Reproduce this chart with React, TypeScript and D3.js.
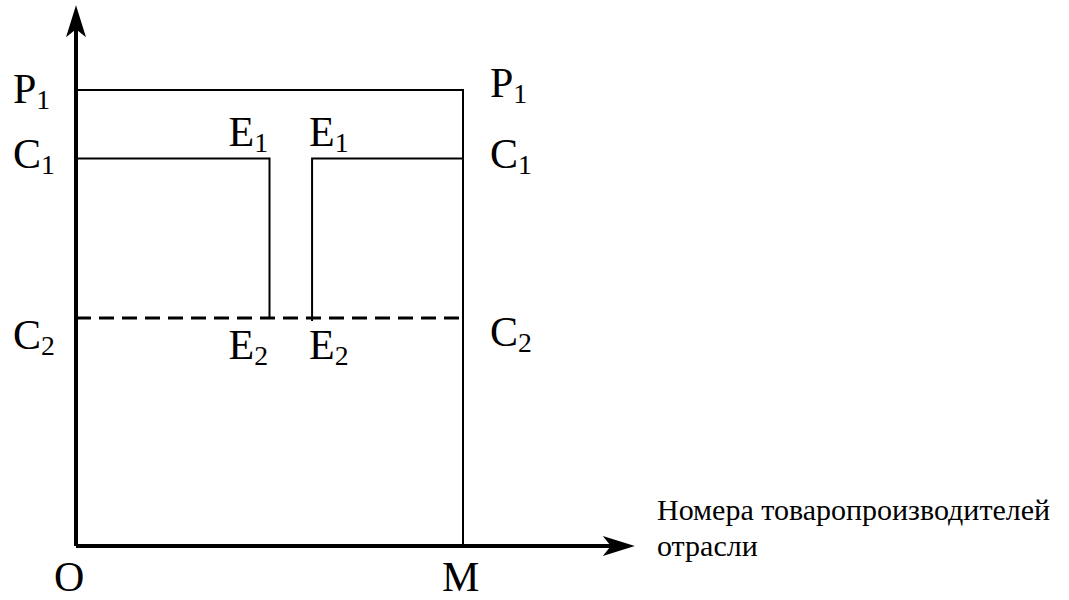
import * as d3 from "d3";

const width = 1069;
const height = 600;

// firm numbers along the x axis (0 = O, 100 = M)
const firmMax = 100;
const leftFirm = [0, 50];
const rightFirm = [61, 100];

// price / cost levels
const levelNames = ["P", "C", "C"];
const levelSubs = ["1", "1", "2"];
const levelValues = [100, 85, 50];

const axisLabel = ["Номера товаропроизводителей", "отрасли"];

const font = "Liberation Serif";

// baseline shift of the level labels (left side, right side)
const leftDy = [13, 10, 31];
const rightDy = [7, 10, 28];

function Label({ x, y, main, sub, size = 42 }: { x: number; y: number; main: string; sub: string; size?: number }) {
  return (
    <text x={x} y={y} fontFamily={font} fontSize={size} fill="#000">
      {main}
      <tspan fontSize={size * 0.66} dy={6}>{sub}</tspan>
    </text>
  );
}

export default function App() {
  const x = d3.scaleLinear().domain([0, firmMax]).range([76, 463]);
  const y = d3.scaleLinear().domain([0, 100]).range([546, 90]);

  const [pY, c1Y, c2Y] = levelValues.map((v) => y(v));
  const x0 = x(0);
  const xM = x(firmMax);
  const axisEnd = x(144.4);
  const axisTop = y(118.6);

  const line = d3.line<[number, number]>();

  // arrow heads pointing up / right
  const upArrow = `M${x0},${axisTop} L${x0 + 10},${axisTop + 32} L${x0},${axisTop + 24} L${x0 - 10},${axisTop + 32} Z`;
  const rightArrow = `M${axisEnd},${y(0)} L${axisEnd - 32},${y(0) + 10} L${axisEnd - 24},${y(0)} L${axisEnd - 32},${y(0) - 10} Z`;

  return (
    <svg width={width} height={height} style={{ position: "absolute", left: 0, top: 0, background: "#fff" }}>
      {/* axes */}
      <path d={line([[x0, y(0)], [x0, axisTop + 20]]) || ""} stroke="#000" strokeWidth={4} fill="none" />
      <path d={line([[x0, y(0)], [axisEnd - 20, y(0)]]) || ""} stroke="#000" strokeWidth={4} fill="none" />
      <path d={upArrow} fill="#000" />
      <path d={rightArrow} fill="#000" />

      {/* P1 price line and M boundary */}
      <path d={line([[x0, pY], [xM, pY], [xM, y(0)]]) || ""} stroke="#000" strokeWidth={2} fill="none" />

      {/* left group of producers */}
      <path d={line([[x(leftFirm[0]), c1Y], [x(leftFirm[1]), c1Y], [x(leftFirm[1]), c2Y]]) || ""} stroke="#000" strokeWidth={2} fill="none" />
      {/* right group of producers */}
      <path d={line([[x(rightFirm[0]), c2Y + 3], [x(rightFirm[0]), c1Y], [x(rightFirm[1]), c1Y]]) || ""} stroke="#000" strokeWidth={2} fill="none" />

      {/* C2 dashed level */}
      <path d={line([[x0, c2Y], [xM, c2Y]]) || ""} stroke="#000" strokeWidth={3} strokeDasharray="15,8" fill="none" />

      {/* level labels left and right */}
      {levelValues.map((v, i) => (
        <g key={i}>
          <Label x={13} y={y(v) + leftDy[i]} main={levelNames[i]} sub={levelSubs[i]} />
          <Label x={490} y={y(v) + rightDy[i]} main={levelNames[i]} sub={levelSubs[i]} />
        </g>
      ))}

      {/* E labels */}
      <Label x={x(leftFirm[1]) - 41} y={c1Y - 12} main="E" sub="1" />
      <Label x={x(rightFirm[0]) - 3} y={c1Y - 12} main="E" sub="1" />
      <Label x={x(leftFirm[1]) - 41} y={c2Y + 41} main="E" sub="2" />
      <Label x={x(rightFirm[0]) - 3} y={c2Y + 41} main="E" sub="2" />

      {/* origin and M */}
      <text x={x0 - 22} y={591} fontFamily={font} fontSize={42} fill="#000">O</text>
      <text x={xM - 21} y={591} fontFamily={font} fontSize={42} fill="#000">M</text>

      {/* x axis title */}
      {axisLabel.map((t, i) => (
        <text key={i} x={657} y={520 + i * 36} fontFamily={font} fontSize={30} fill="#000">{t}</text>
      ))}
    </svg>
  );
}
